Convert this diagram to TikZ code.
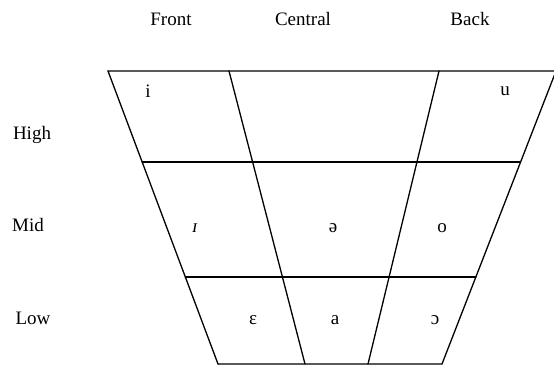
\documentclass[tikz,border=0pt]{standalone}
\usepackage{fontspec}
\setmainfont{Liberation Serif}
\usetikzlibrary{calc}
\begin{document}
\begin{tikzpicture}[x=1pt,y=-1pt,
  grid/.style={line width=1.3pt, line cap=round, line join=miter},
  lab/.style={font=\fontsize{19}{22}\selectfont, inner sep=0pt, anchor=base},
  vow/.style={font=\fontsize{19}{22}\selectfont, inner sep=0pt}]
\useasboundingbox (0,0) rectangle (554,366);
% corners
\coordinate (TL) at (108,71);
\coordinate (TR) at (556,71);
\coordinate (BL) at (218,364);
\coordinate (BR) at (442,364);
\coordinate (A1) at (229,71);
\coordinate (A2) at (305,364);
\coordinate (B1) at (439,71);
\coordinate (B2) at (368,364);
\coordinate (H1L) at ($(TL)!0.3106!(BL)$);
\coordinate (H1R) at ($(TR)!0.3106!(BR)$);
\coordinate (H2L) at ($(TL)!0.7031!(BL)$);
\coordinate (H2R) at ($(TR)!0.7031!(BR)$);
% frame
\draw[grid] (BL) -- (TL) -- (TR);
\draw[grid] (TR) -- (BR) -- (BL);
\draw[grid] (A1) -- (A2);
\draw[grid] (B1) -- (B2);
\draw[grid] (H1L) -- (H1R);
\draw[grid] (H2L) -- (H2R);
% column headings
\node[lab] (front) at (171,26) {Front};
\node[lab] (central) at (303,26) {Central};
\node[lab] (back) at (470,26) {Back};
% row headings
\node[lab] (high) at (32,140) {High};
\node[lab] (mid) at (28,232) {Mid};
\node[lab] (low) at (33,324) {Low};
% vowels
\node[vow] (vi) at (148,91) {i};
\node[vow] (vu) at (505,91) {u};
\node[vow] (vI) at (195,228) {\itshape ɪ};
\node[vow] (vschwa) at (333,228) {ə};
\node[vow] (vo) at (442,228) {o};
\node[vow] (veps) at (253,320) {ɛ};
\node[vow] (va) at (335,320) {a};
\node[vow] (vopen) at (435,320) {ɔ};
\end{tikzpicture}
\end{document}
